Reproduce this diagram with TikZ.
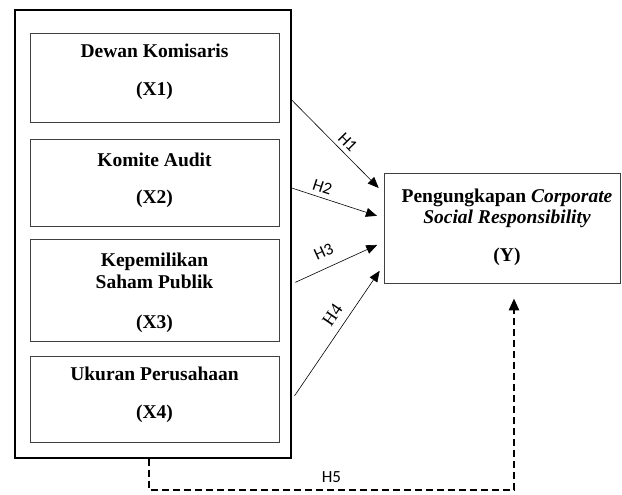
\documentclass[tikz,border=0pt]{standalone}
\usepackage{fontspec}
\setmainfont{Liberation Serif}
\newfontfamily\hfont{Carlito}
\usetikzlibrary{arrows.meta}

\begin{document}
\begin{tikzpicture}[x=1pt,y=1pt]
      \tikzset{varbox/.style={draw=black!75, line width=0.8pt, inner sep=0pt, minimum width=249pt},
               vartext/.style={align=center, inner sep=0pt, font=\fontsize{19.5}{22.5}\selectfont\bfseries},
               hyp/.style={-{Triangle[length=11pt,width=9pt]}, line width=0.6pt, shorten >=7pt},
               hlabel/.style={font=\hfont\fontsize{17}{18}\selectfont, sloped, inner sep=2pt}}
      \useasboundingbox (0,0) rectangle (622,-495);
%% Vertices
	%uafhaengige variable
      	\node[draw, line width=1.4pt, inner sep=0pt, minimum width=276pt, minimum height=448pt] (outer) at (153,-234) {};
      	\node[varbox, minimum height=89pt] (x1) at (154.5,-77.5) {};
      	\node[varbox, minimum height=87pt] (x2) at (154.5,-182.5) {};
      	\node[varbox, minimum height=102pt] (x3) at (154.5,-290) {};
      	\node[varbox, minimum height=86pt] (x4) at (154.5,-399) {};
      	\node[vartext] (x1txt) at (154.5,-72) {Dewan Komisaris\\[15pt](X1)};
      	\node[vartext] (x2txt) at (154.5,-180.5) {Komite Audit\\[15pt](X2)};
      	\node[vartext] (x3txt) at (154.5,-292.5) {Kepemilikan\\Saham Publik\\[17pt](X3)};
      	\node[vartext] (x4txt) at (154.5,-395) {Ukuran Perusahaan\\[15pt](X4)};
	%afhaengig variabel
      	\node[draw=black!75, line width=0.8pt, inner sep=0pt, minimum width=236pt, minimum height=110pt] (y) at (502,-228) {};
      	\node[vartext] (ytxt) at (507,-227.5) {Pengungkapan \textit{Corporate}\\[-1.5pt]\textit{Social Responsibility}\\[15pt](Y)};
%Edges
		\draw [hyp] (outer.east |- 0,-100) -- (y.west |- 0,-193) node[hlabel, pos=0.53, above=2.5pt] {H1};
		\draw [hyp] (outer.east |- 0,-188) -- (y.west |- 0,-218) node[hlabel, pos=0.3, above=2.5pt] {H2};
		\draw [hyp, shorten <=4pt] (outer.east |- 0,-284) -- (y.west |- 0,-242) node[hlabel, pos=0.42, above=8pt] {H3};
		\draw [hyp, shorten <=5pt] (outer.east |- 0,-400) -- (y.west |- 0,-265) node[hlabel, pos=0.57, above=6pt, font=\fontsize{18}{18}\selectfont] {H4};
		\draw [line width=2.6pt, dash pattern=on 7pt off 4pt, -{Triangle[length=12pt,width=10pt]}, shorten >=15pt]
			(149,0 |- outer.south) -- (149,-490) -| (514,0 |- y.south) node[pos=0.25, above=3pt, font=\hfont\fontsize{17}{18}\selectfont] {H5};

\end{tikzpicture}
\end{document}
